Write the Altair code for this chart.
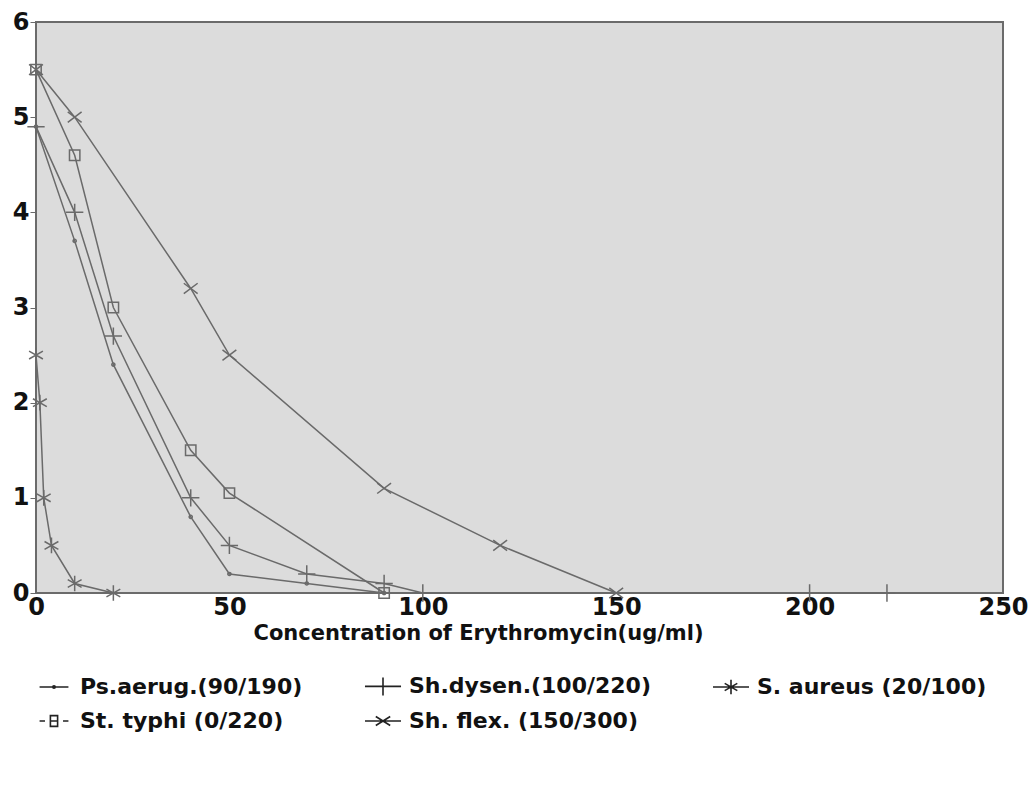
import altair as alt
import pandas as pd

# legend order is column-major: row1 = Ps, Sh.dysen, S.aureus ; row2 = St.typhi, Sh.flex
series_names = ["Ps.aerug.(90/190)", "St. typhi (0/220)", "Sh.dysen.(100/220)",
                "Sh. flex. (150/300)", "S. aureus (20/100)"]

ps_x = [0, 10, 20, 40, 50, 70, 90]
ps_y = [4.9, 3.7, 2.4, 0.8, 0.2, 0.1, 0.0]
st_x = [0, 10, 20, 40, 50, 90]
st_y = [5.5, 4.6, 3.0, 1.5, 1.05, 0.0]
sd_x = [0, 10, 20, 40, 50, 70, 90, 100, 200, 220]
sd_y = [4.9, 4.0, 2.7, 1.0, 0.5, 0.2, 0.1, 0.0, 0.0, 0.0]
sf_x = [0, 10, 40, 50, 90, 120, 150]
sf_y = [5.5, 5.0, 3.2, 2.5, 1.1, 0.5, 0.0]
sa_x = [0, 1, 2, 4, 10, 20]
sa_y = [2.5, 2.0, 1.0, 0.5, 0.1, 0.0]

x_ticks = [0, 50, 100, 150, 200, 250]
y_ticks = [0, 1, 2, 3, 4, 5, 6]

rows = []
for name, xs, ys in zip(series_names, [ps_x, st_x, sd_x, sf_x, sa_x],
                        [ps_y, st_y, sd_y, sf_y, sa_y]):
    for i, (a, b) in enumerate(zip(xs, ys)):
        rows.append({"series": name, "x": a, "y": b, "order": i})
df = pd.DataFrame(rows)

GRAY = "#6a6a6a"
FONT = "DejaVu Sans"

plot_paths = [
    "M-0.18,0A0.18,0.18,0,1,0,0.18,0A0.18,0.18,0,1,0,-0.18,0Z",
    "M-0.6,-0.6H0.6V0.6H-0.6Z",
    "M-1,0H1M0,-1V1",
    "M-0.8,-0.6L0.8,0.6M-0.8,0.6L0.8,-0.6",
    "M0,-0.9V0.9M-0.8,-0.45L0.8,0.45M-0.8,0.45L0.8,-0.45",
]
legend_paths = [
    "M-0.8,0H0.8M-0.07,0A0.07,0.07,0,1,0,0.07,0A0.07,0.07,0,1,0,-0.07,0Z",
    "M-0.8,0H-0.5M0.5,0H0.8M-0.2,-0.3H0.2V0.3H-0.2ZM-0.2,0H0.2",
    "M-1,0H1M0,-0.5V0.5",
    "M-1,0H1M-0.4,-0.25L0.4,0.25M-0.4,0.25L0.4,-0.25",
    "M-1,0H1M0,-0.4V0.4M-0.35,-0.2L0.35,0.2M-0.35,0.2L0.35,-0.2",
]

x_enc = alt.X("x:Q", scale=alt.Scale(domain=[0, 250], nice=False),
              axis=alt.Axis(values=x_ticks, grid=False, ticks=False, domain=False,
                            labelFont=FONT, labelFontSize=24, labelFontWeight="bold",
                            labelColor="#111", labelPadding=2, labelFlush=False,
                            title="Concentration of Erythromycin(ug/ml)",
                            titleFont=FONT, titleFontSize=21, titleFontWeight="bold",
                            titleColor="#111", titleX=442, titleY=29,
                            titleBaseline="top"))
y_enc = alt.Y("y:Q", scale=alt.Scale(domain=[0, 6], nice=False),
              axis=alt.Axis(values=y_ticks, format="d", grid=False, tickSize=6,
                            tickColor=GRAY, domain=False, labelFont=FONT,
                            labelFontSize=24, labelFontWeight="bold", labelColor="#111",
                            labelPadding=1, labelFlush=False, title=None))

base = alt.Chart(df)

lines = base.mark_line(color=GRAY, strokeWidth=1.5).encode(
    x=x_enc, y=y_enc, detail="series:N", order="order:Q")

points = base.mark_point(filled=False, color=GRAY, strokeWidth=1.5, size=300,
                         opacity=1).encode(
    x="x:Q", y="y:Q",
    shape=alt.Shape("series:N", scale=alt.Scale(domain=series_names, range=plot_paths),
                    legend=None))

legend_layer = base.transform_filter("false").mark_point(
    filled=False, color="#222", strokeWidth=1.6, opacity=1).encode(
    x="x:Q", y="y:Q",
    shape=alt.Shape("series:N", scale=alt.Scale(domain=series_names, range=legend_paths),
                    legend=alt.Legend(title=None, orient="none", legendX=-1, legendY=645,
                                      columns=3, symbolSize=1300, symbolStrokeWidth=1.6,
                                      symbolStrokeColor="#222", symbolFillColor="transparent",
                                      labelFont=FONT, labelFontSize=22,
                                      labelFontWeight="bold", labelColor="#111",
                                      labelOffset=7, labelLimit=400,
                                      rowPadding=3, columnPadding=58)))

chart = alt.layer(lines, points, legend_layer).resolve_scale(shape="independent").properties(
    width=967, height=571,
    autosize=alt.AutoSizeParams(type="none"),
    padding={"left": 28, "top": 14, "right": 25, "bottom": 185},
    background="white",
).configure_view(fill="#dcdcdc", stroke="#6b6b6b", strokeWidth=2)

chart.save("out.html", embed_options={"renderer": "svg", "actions": False})
